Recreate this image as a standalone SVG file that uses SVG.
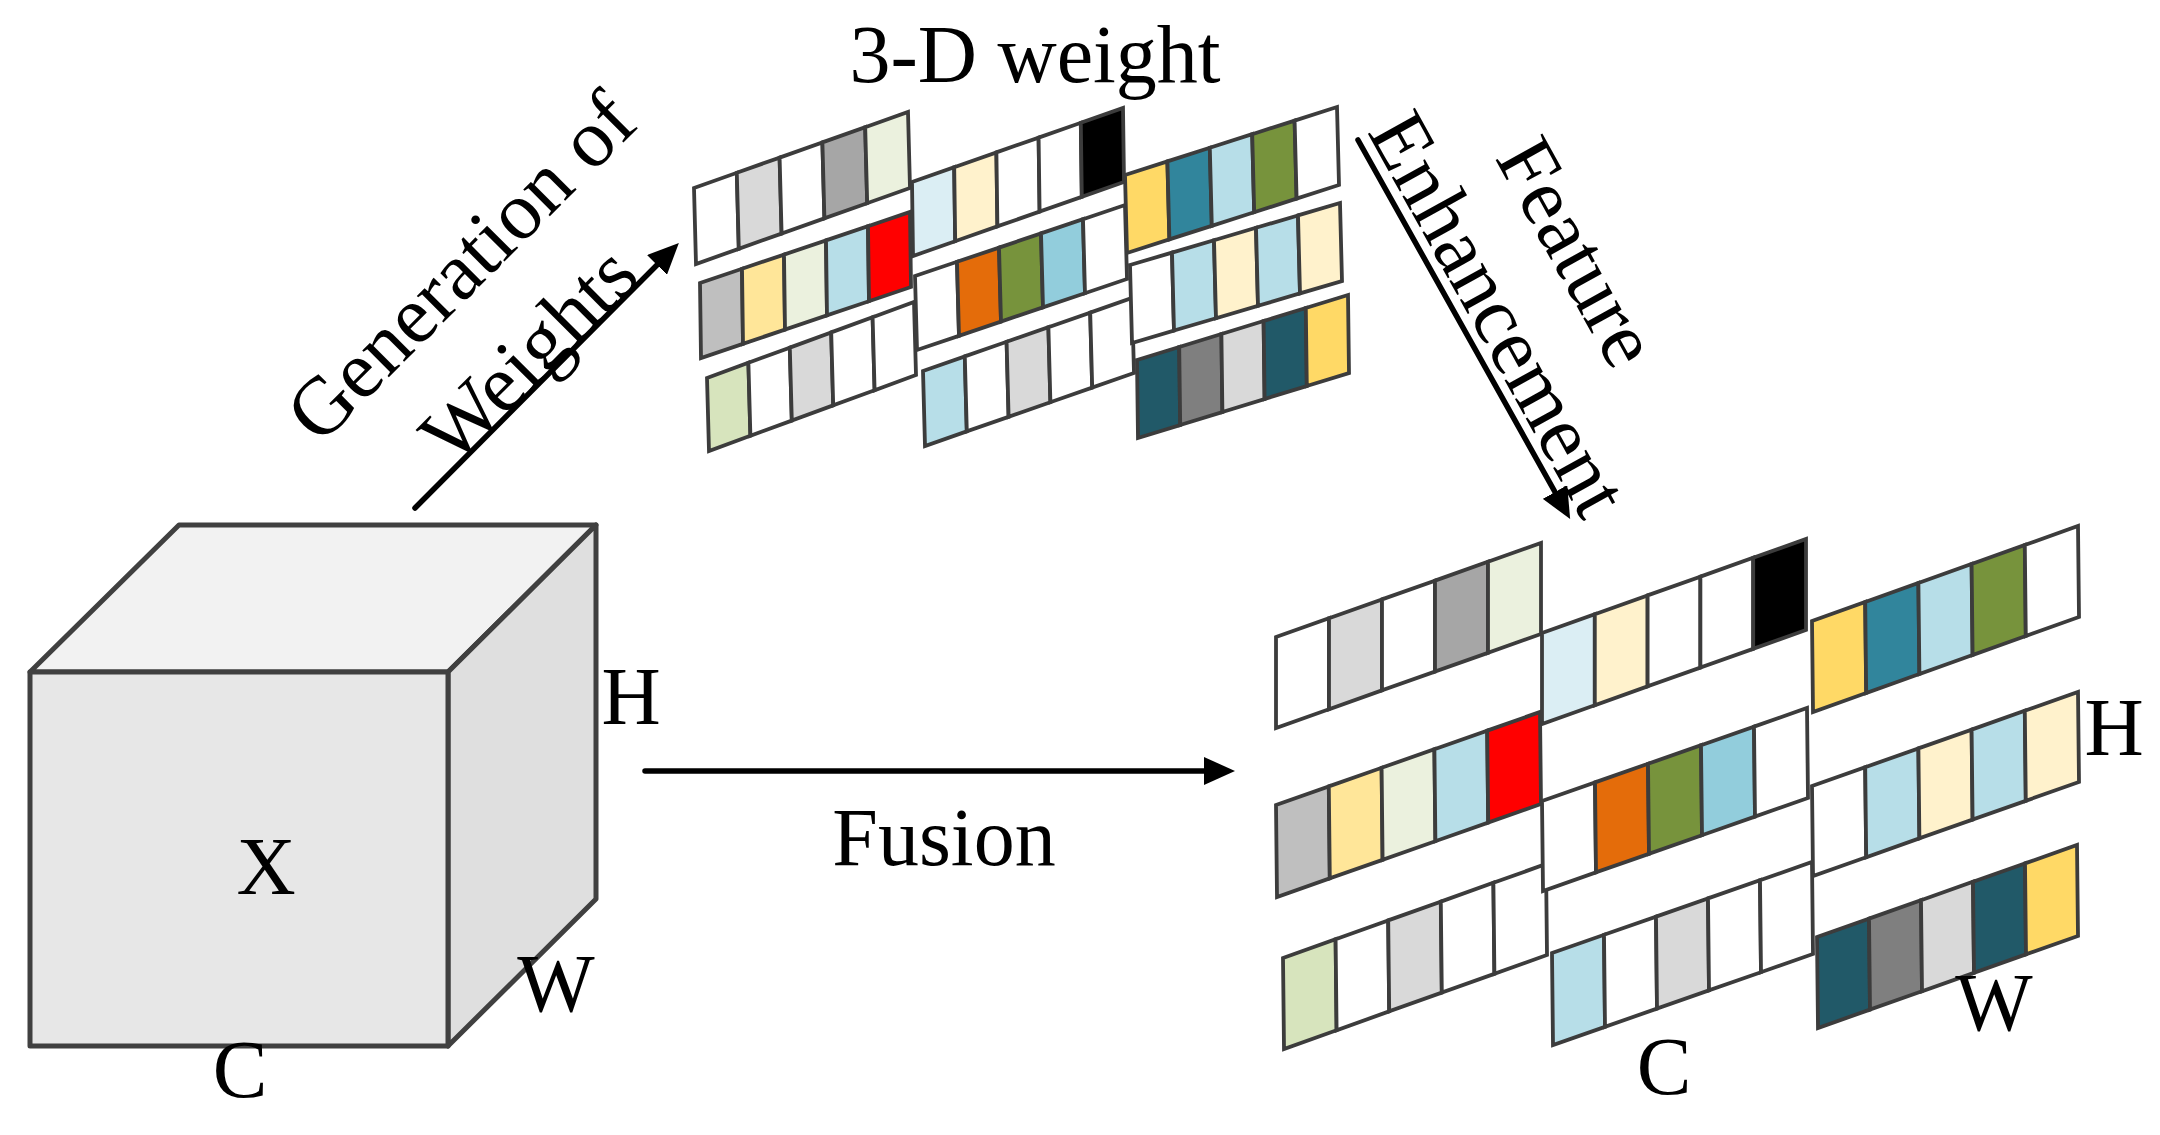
<svg xmlns="http://www.w3.org/2000/svg" width="2160" height="1135" viewBox="0 0 2160 1135">
<style>
.bg{fill:#ffffff}
.t{font-family:"Liberation Serif","Times New Roman",serif;font-size:82px;fill:#000}
.m{text-anchor:middle}
.cube polygon{stroke:#404040;stroke-width:5;stroke-linejoin:round}
.s rect{stroke:#3c3c3c;stroke-width:3.8;vector-effect:non-scaling-stroke}
.arr{stroke:#000;stroke-width:5.5;fill:none;stroke-linecap:round}
.w{fill:#ffffff}.lg{fill:#d9d9d9}.g1{fill:#a6a6a6}.g2{fill:#bfbfbf}.g3{fill:#7f7f7f}
.lgr{fill:#ebf1de}.lgr2{fill:#d7e4bd}.ly{fill:#ffe699}.cr{fill:#fff2cc}
.lb{fill:#b7dee8}.vlb{fill:#dbeef4}.lb2{fill:#92cddc}.rd{fill:#ff0000}.bk{fill:#000000}
.or{fill:#e46c0a}.ol{fill:#77933c}.gd{fill:#ffd966}.tl{fill:#31859c}.dt{fill:#215968}
</style>
<defs>
<marker id="ah" markerUnits="userSpaceOnUse" markerWidth="32" markerHeight="28" refX="0" refY="14" orient="auto">
<path d="M0,0 L31,14 L0,28 Z" fill="#000"/>
</marker>
</defs>
<rect class="bg" x="0" y="0" width="2160" height="1135"/>

<g id="cube" class="cube">
<polygon points="30,672 179,525 596,525 448,672" fill="#f2f2f2"/>
<polygon points="448,672 596,525 596,899 448,1046" fill="#dfdfdf"/>
<polygon points="30,672 448,672 448,1046 30,1046" fill="#e7e7e7"/>
<text class="t m" x="266" y="894">X</text>
<text class="t m" x="631" y="724">H</text>
<text class="t m" x="556" y="1011">W</text>
<text class="t m" x="240" y="1097">C</text>
</g>

<g id="weight3d">
<text class="t m" x="1035" y="82">3-D weight</text>
<g class="s" transform="matrix(42.8,-15.2,2,76,694,188)"><rect x="0" width="1" height="1" class="w"/><rect x="1" width="1" height="1" class="lg"/><rect x="2" width="1" height="1" class="w"/><rect x="3" width="1" height="1" class="g1"/><rect x="4" width="1" height="1" class="lgr"/></g>
<g class="s" transform="matrix(42,-14.2,1,75,700,283)"><rect x="0" width="1" height="1" class="g2"/><rect x="1" width="1" height="1" class="ly"/><rect x="2" width="1" height="1" class="lgr"/><rect x="3" width="1" height="1" class="lb"/><rect x="4" width="1" height="1" class="rd"/></g>
<g class="s" transform="matrix(41.4,-15.2,2,73,707,378)"><rect x="0" width="1" height="1" class="lgr2"/><rect x="1" width="1" height="1" class="w"/><rect x="2" width="1" height="1" class="lg"/><rect x="3" width="1" height="1" class="w"/><rect x="4" width="1" height="1" class="w"/></g>
<g class="s" transform="matrix(42.2,-14.8,1,74,912,182)"><rect x="0" width="1" height="1" class="vlb"/><rect x="1" width="1" height="1" class="cr"/><rect x="2" width="1" height="1" class="w"/><rect x="3" width="1" height="1" class="w"/><rect x="4" width="1" height="1" class="bk"/></g>
<g class="s" transform="matrix(42,-14.2,2,74,915,276)"><rect x="0" width="1" height="1" class="w"/><rect x="1" width="1" height="1" class="or"/><rect x="2" width="1" height="1" class="ol"/><rect x="3" width="1" height="1" class="lb2"/><rect x="4" width="1" height="1" class="w"/></g>
<g class="s" transform="matrix(41.8,-14.6,2,75,923,371)"><rect x="0" width="1" height="1" class="lb"/><rect x="1" width="1" height="1" class="w"/><rect x="2" width="1" height="1" class="lg"/><rect x="3" width="1" height="1" class="w"/><rect x="4" width="1" height="1" class="w"/></g>
<g class="s" transform="matrix(42.4,-13.6,2,78,1125,175)"><rect x="0" width="1" height="1" class="gd"/><rect x="1" width="1" height="1" class="tl"/><rect x="2" width="1" height="1" class="lb"/><rect x="3" width="1" height="1" class="ol"/><rect x="4" width="1" height="1" class="w"/></g>
<g class="s" transform="matrix(42,-12.4,2,78,1130,265)"><rect x="0" width="1" height="1" class="w"/><rect x="1" width="1" height="1" class="lb"/><rect x="2" width="1" height="1" class="cr"/><rect x="3" width="1" height="1" class="lb"/><rect x="4" width="1" height="1" class="cr"/></g>
<g class="s" transform="matrix(42.2,-13,1,78,1137,360)"><rect x="0" width="1" height="1" class="dt"/><rect x="1" width="1" height="1" class="g3"/><rect x="2" width="1" height="1" class="lg"/><rect x="3" width="1" height="1" class="dt"/><rect x="4" width="1" height="1" class="gd"/></g>
</g>

<g id="output">
<g class="s" transform="matrix(53,-18.8,0,91,1276,637)"><rect x="0" width="1" height="1" class="w"/><rect x="1" width="1" height="1" class="lg"/><rect x="2" width="1" height="1" class="w"/><rect x="3" width="1" height="1" class="g1"/><rect x="4" width="1" height="1" class="lgr"/></g>
<g class="s" transform="matrix(52.8,-18.6,1,92,1276,805)"><rect x="0" width="1" height="1" class="g2"/><rect x="1" width="1" height="1" class="ly"/><rect x="2" width="1" height="1" class="lgr"/><rect x="3" width="1" height="1" class="lb"/><rect x="4" width="1" height="1" class="rd"/></g>
<g class="s" transform="matrix(52.6,-18.8,1,91,1283,958)"><rect x="0" width="1" height="1" class="lgr2"/><rect x="1" width="1" height="1" class="w"/><rect x="2" width="1" height="1" class="lg"/><rect x="3" width="1" height="1" class="w"/><rect x="4" width="1" height="1" class="w"/></g>
<g class="s" transform="matrix(52.8,-18.8,0,91,1542,633)"><rect x="0" width="1" height="1" class="vlb"/><rect x="1" width="1" height="1" class="cr"/><rect x="2" width="1" height="1" class="w"/><rect x="3" width="1" height="1" class="w"/><rect x="4" width="1" height="1" class="bk"/></g>
<g class="s" transform="matrix(53,-18.6,1,90,1542,801)"><rect x="0" width="1" height="1" class="w"/><rect x="1" width="1" height="1" class="or"/><rect x="2" width="1" height="1" class="ol"/><rect x="3" width="1" height="1" class="lb2"/><rect x="4" width="1" height="1" class="w"/></g>
<g class="s" transform="matrix(52,-18.2,1,92,1552,953)"><rect x="0" width="1" height="1" class="lb"/><rect x="1" width="1" height="1" class="w"/><rect x="2" width="1" height="1" class="lg"/><rect x="3" width="1" height="1" class="w"/><rect x="4" width="1" height="1" class="w"/></g>
<g class="s" transform="matrix(53.2,-19,1,91,1812,621)"><rect x="0" width="1" height="1" class="gd"/><rect x="1" width="1" height="1" class="tl"/><rect x="2" width="1" height="1" class="lb"/><rect x="3" width="1" height="1" class="ol"/><rect x="4" width="1" height="1" class="w"/></g>
<g class="s" transform="matrix(53.2,-18.8,1,90,1812,786)"><rect x="0" width="1" height="1" class="w"/><rect x="1" width="1" height="1" class="lb"/><rect x="2" width="1" height="1" class="cr"/><rect x="3" width="1" height="1" class="lb"/><rect x="4" width="1" height="1" class="cr"/></g>
<g class="s" transform="matrix(52,-18.4,1,91,1817,937)"><rect x="0" width="1" height="1" class="dt"/><rect x="1" width="1" height="1" class="g3"/><rect x="2" width="1" height="1" class="lg"/><rect x="3" width="1" height="1" class="dt"/><rect x="4" width="1" height="1" class="gd"/></g>
<text class="t m" x="2114" y="755">H</text>
<text class="t m" x="1994" y="1030">W</text>
<text class="t m" x="1664" y="1094">C</text>
</g>

<g id="connectors">
<line class="arr" x1="415" y1="508" x2="657" y2="265" marker-end="url(#ah)"/>
<line class="arr" x1="1358" y1="140" x2="1555" y2="492" marker-end="url(#ah)"/>
<line class="arr" x1="645" y1="771" x2="1204" y2="771" marker-end="url(#ah)"/>
<g transform="translate(480,286) rotate(-45)">
<text class="t m" x="0" y="0">Generation of</text>
<text class="t m" x="-14" y="110">Weights</text>
</g>
<g transform="translate(1475,327) rotate(61)">
<text class="t m" x="-16" y="-99">Feature</text>
<text class="t m" x="0" y="0">Enhancement</text>
</g>
<text class="t m" x="944" y="865">Fusion</text>
</g>
</svg>
